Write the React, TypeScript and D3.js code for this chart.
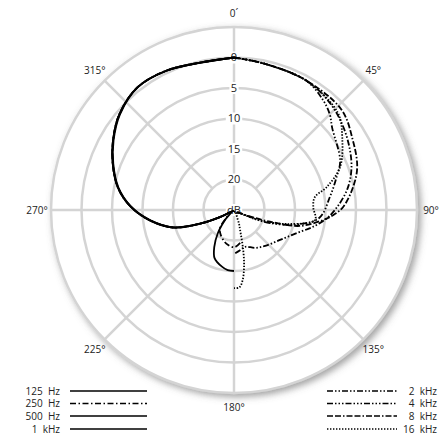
import React, { useRef, useEffect } from "react";
import * as d3 from "d3";

// rings in dB (center = 25 dB, outer edge = -5 dB)
const ringLevels = [20, 15, 10, 5, 0];
const ringLabels = ["20", "15", "10", "5", "0"];
const angleTicks = [0, 45, 90, 135, 180, 225, 270, 315];
const angleLabels = ["0´", "45°", "90°", "135°", "180°", "225°", "270°", "315°"];

// low frequencies, left half (angles clockwise from front)
const hz125Angles = [360, 347, 334, 322, 310, 300, 291, 281, 272, 263, 254, 248, 243, 238, 225, 200, 180];
const hz125Db = [0, 0.2, -0.4, -0.6, 0.5, 2.1, 3.7, 5.6, 8.0, 11.1, 14.6, 19, 22.4, 24.3, 24.8, 24.8, 24.8];

const hz250Angles = [360, 347, 334, 322, 310, 300, 291, 281, 272, 263, 254, 248, 243, 236, 226, 218, 211, 200, 190, 179, 166];
const hz250Db = [0, 0.2, -0.4, -0.6, 0.5, 2.1, 3.7, 5.6, 8.0, 11.1, 14.6, 19, 22.4, 24.3, 23.5, 21.3, 20.6, 19.8, 19.2, 18.9, 19.75];

const hz500Angles = [360, 347, 334, 322, 310, 300, 291, 281, 272, 263, 254, 248, 243, 238, 225, 200, 180];
const hz500Db = [0, 0.25, -0.35, -0.55, 0.6, 2.2, 3.8, 5.7, 8.1, 11.2, 14.7, 19.2, 22.6, 24.4, 24.8, 24.8, 24.8];

const khz1Angles = [360, 347, 334, 322, 310, 300, 291, 281, 272, 263, 254, 248, 243, 236, 222, 215, 208, 202, 192, 186, 180];
const khz1Db = [0, 0.2, -0.4, -0.6, 0.5, 2.1, 3.7, 5.6, 8.0, 11.1, 14.6, 19, 22.4, 24.5, 22.8, 20.4, 18.1, 16.5, 15.5, 15.1, 15];

// high frequencies, right half
const khz2Angles = [0, 12, 29, 40, 50, 60, 70, 79, 88, 95, 102, 110, 123, 139, 151, 163, 172, 180];
const khz2Db = [0, 0.5, 0.7, 1.3, 2.2, 3.3, 4.5, 6.0, 8.0, 9.7, 11.75, 14, 16, 17.2, 17.9, 18.7, 18.3, 17.8];

const khz4Angles = [0, 12, 29, 39, 45, 50, 65, 72, 82, 95, 102, 110, 114, 125, 150, 180];
const khz4Db = [0, 0.5, 0.7, 1.8, 2.8, 4, 5.8, 7.3, 9.1, 10.9, 13.9, 18.7, 22.5, 24.4, 24.7, 24.7];

const khz8Angles = [0, 12, 29, 47, 59.5, 70.7, 79, 88.4, 93, 96.4, 103.6, 108, 114, 125, 150, 180];
const khz8Db = [0, 0.5, 0.7, 0.9, 2.4, 3.6, 5.1, 7.1, 8.75, 10.3, 13.9, 18.8, 23, 24.4, 24.7, 24.7];

const khz16Angles = [0, 12, 29, 47, 56, 68, 76, 81, 88, 97, 104, 112, 116, 130, 150, 160, 163, 167, 170, 173, 176, 180];
const khz16Db = [0, 0.5, 0.7, 1.7, 3.6, 6.25, 9.3, 11.6, 12, 11.6, 15.5, 20.4, 23.3, 24.4, 24.2, 22.6, 21.6, 18.3, 15.5, 13.4, 12.3, 12.2];

const legendLeft = ["125  Hz", "250  Hz", "500  Hz", "1  kHz"];
const legendRight = ["2  kHz", "4  kHz", "8  kHz", "16  kHz"];

const dashes = {
  solid: null,
  dashDot: "6,2.5,1.5,2.5",
  dashDotDot: "6,2,1.5,2,1.5,2",
  dashDot3: "6,2,1.5,2,1.5,2,1.5,2",
  longDashDot: "6,2,6,2,1.5,2",
  dotted: "1.4,1.6",
};

const series = [
  { angles: hz125Angles, db: hz125Db, dash: dashes.solid },
  { angles: hz250Angles, db: hz250Db, dash: dashes.dashDot },
  { angles: hz500Angles, db: hz500Db, dash: dashes.solid },
  { angles: khz1Angles, db: khz1Db, dash: dashes.solid },
  { angles: khz2Angles, db: khz2Db, dash: dashes.dashDotDot },
  { angles: khz4Angles, db: khz4Db, dash: dashes.dashDot3 },
  { angles: khz8Angles, db: khz8Db, dash: dashes.longDashDot },
  { angles: khz16Angles, db: khz16Db, dash: dashes.dotted },
];
const legendDashLeft = [dashes.solid, dashes.dashDot, dashes.solid, dashes.solid];
const legendDashRight = [dashes.dashDotDot, dashes.dashDot3, dashes.longDashDot, dashes.dotted];

const App = () => {
  const svgRef = useRef(null);

  useEffect(() => {
    const svg = d3.select(svgRef.current);
    svg.selectAll("*").remove();

    const width = 447;
    const height = 438;
    const cx = 234;
    const cy = 210;
    const font = "'Open Sans', 'DejaVu Sans', sans-serif";
    const grid = "#d4d4d4";

    const r = d3.scaleLinear().domain([25, -5]).range([0, 183]);
    const rad = (a) => (a * Math.PI) / 180;

    svg.attr("width", width).attr("height", height);

    const defs = svg.append("defs");
    const filter = defs.append("filter").attr("id", "shadow").attr("x", "-20%").attr("y", "-20%").attr("width", "140%").attr("height", "140%");
    filter
      .append("feDropShadow")
      .attr("dx", 3)
      .attr("dy", 3)
      .attr("stdDeviation", 3.5)
      .attr("flood-color", "#666")
      .attr("flood-opacity", 0.6);

    const chart = svg.append("g").attr("transform", `translate(${cx},${cy})`);

    // disk with shadow
    chart
      .append("circle")
      .attr("r", r(-5))
      .attr("fill", "#fff")
      .attr("stroke", grid)
      .attr("stroke-width", 2.5)
      .attr("filter", "url(#shadow)");

    chart
      .selectAll("circle.ring")
      .data(ringLevels)
      .enter()
      .append("circle")
      .attr("class", "ring")
      .attr("r", (d) => r(d))
      .attr("fill", "none")
      .attr("stroke", grid)
      .attr("stroke-width", 2.5);

    // spokes
    chart
      .selectAll("line.spoke")
      .data(angleTicks)
      .enter()
      .append("line")
      .attr("x1", (d) => (d % 90 === 0 ? 0 : r(20) * Math.sin(rad(d))))
      .attr("y1", (d) => (d % 90 === 0 ? 0 : -r(20) * Math.cos(rad(d))))
      .attr("x2", (d) => r(-5) * Math.sin(rad(d)))
      .attr("y2", (d) => -r(-5) * Math.cos(rad(d)))
      .attr("stroke", grid)
      .attr("stroke-width", 2.5);

    // ring labels with white background
    const rl = chart
      .selectAll("g.rl")
      .data(ringLevels.map((d, i) => ({ d, t: ringLabels[i] })).concat([{ d: 25, t: "dB" }]))
      .enter()
      .append("g")
      .attr("transform", (d) => `translate(0,${-r(d.d)})`);
    rl.append("rect")
      .attr("x", (d) => -d.t.length * 3.6 - 1)
      .attr("y", -6)
      .attr("width", (d) => d.t.length * 7.2 + 2)
      .attr("height", 12)
      .attr("fill", "#fff");
    rl.append("text")
      .attr("text-anchor", "middle")
      .attr("dy", "0.35em")
      .attr("font-family", font)
      .attr("font-size", 11)
      .attr("fill", "#222")
      .text((d) => d.t);

    // angle labels
    chart
      .selectAll("text.ang")
      .data(angleTicks)
      .enter()
      .append("text")
      .attr("x", (d) => 197 * Math.sin(rad(d)))
      .attr("y", (d) => -197 * Math.cos(rad(d)))
      .attr("dy", "0.35em")
      .attr("text-anchor", "middle")
      .attr("font-family", font)
      .attr("font-size", 10)
      .attr("fill", "#222")
      .text((d, i) => angleLabels[i]);

    // curves
    const line = d3
      .lineRadial()
      .angle((d) => rad(d[0]))
      .radius((d) => r(d[1]))
      .curve(d3.curveCatmullRom.alpha(0.5));

    chart
      .selectAll("path.curve")
      .data(series)
      .enter()
      .append("path")
      .attr("d", (s) => line(s.angles.map((a, i) => [a, s.db[i]])))
      .attr("fill", "none")
      .attr("stroke", "#000")
      .attr("stroke-width", 1.8)
      .attr("stroke-dasharray", (s) => s.dash);

    // legend
    const rows = [391, 403.5, 416, 429];
    const left = svg.append("g");
    left
      .selectAll("text")
      .data(legendLeft)
      .enter()
      .append("text")
      .attr("x", 60)
      .attr("y", (d, i) => rows[i])
      .attr("dy", "0.35em")
      .attr("text-anchor", "end")
      .attr("font-family", font)
      .attr("font-size", 10)
      .attr("fill", "#222")
      .style("white-space", "pre")
      .text((d) => d);
    left
      .selectAll("line")
      .data(legendDashLeft)
      .enter()
      .append("line")
      .attr("x1", 70)
      .attr("x2", 147)
      .attr("y1", (d, i) => rows[i])
      .attr("y2", (d, i) => rows[i])
      .attr("stroke", "#000")
      .attr("stroke-width", 1.6)
      .attr("stroke-dasharray", (d) => d);

    const right = svg.append("g");
    right
      .selectAll("text")
      .data(legendRight)
      .enter()
      .append("text")
      .attr("x", 437)
      .attr("y", (d, i) => rows[i])
      .attr("dy", "0.35em")
      .attr("text-anchor", "end")
      .attr("font-family", font)
      .attr("font-size", 10)
      .attr("fill", "#222")
      .style("white-space", "pre")
      .text((d) => d);
    right
      .selectAll("line")
      .data(legendDashRight)
      .enter()
      .append("line")
      .attr("x1", 327)
      .attr("x2", 397)
      .attr("y1", (d, i) => rows[i])
      .attr("y2", (d, i) => rows[i])
      .attr("stroke", "#000")
      .attr("stroke-width", 1.6)
      .attr("stroke-dasharray", (d) => d);
  }, []);

  return (
    <svg
      ref={svgRef}
      style={{ position: "absolute", left: 0, top: 0, background: "#fff" }}
    ></svg>
  );
};

export default App;
